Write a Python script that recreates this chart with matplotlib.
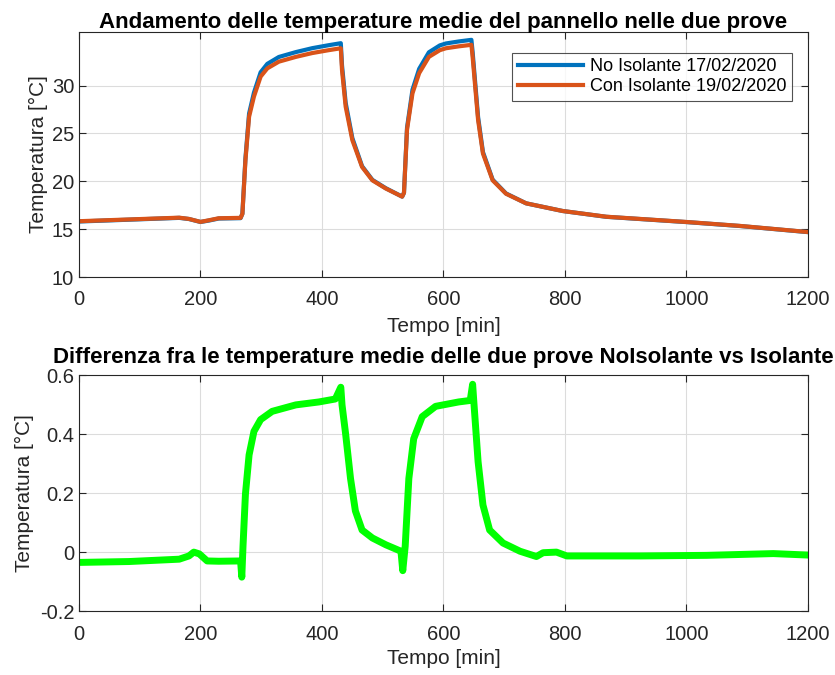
import matplotlib
matplotlib.use("Agg")
import matplotlib.pyplot as plt

plt.rcParams['font.family'] = ['Liberation Sans', 'DejaVu Sans']

# --- data ---
# time [min] shared by the two temperature curves
t_top = [0, 165, 181, 200, 214, 230, 266, 269, 274, 280,
         288, 299, 310, 329, 357, 384, 411, 431, 433, 439,
         450, 466, 483, 505, 532, 535, 540, 549, 560, 576,
         594, 604, 625, 646, 648, 657, 665, 681, 703, 736,
         796, 868, 1000, 1088, 1200]
no_isolante = [15.8, 16.18, 16.06, 15.75, 15.9, 16.11, 16.15, 16.62, 22.4, 27.08,
               29.26, 31.39, 32.27, 32.99, 33.5, 33.91, 34.22, 34.43, 32.1, 28.2,
               24.52, 21.58, 20.15, 19.28, 18.4, 18.8, 25.6, 29.57, 31.75, 33.48,
               34.2, 34.4, 34.61, 34.78, 33.5, 26.71, 23.06, 20.17, 18.73, 17.7,
               16.9, 16.29, 15.74, 15.33, 14.69]
con_isolante = [15.83, 16.2, 16.07, 15.76, 15.93, 16.14, 16.18, 16.6, 22.2, 26.75,
                28.85, 30.94, 31.8, 32.5, 33.0, 33.4, 33.7, 33.9, 31.6, 27.8,
                24.3, 21.5, 20.1, 19.25, 18.4, 18.8, 25.4, 29.2, 31.3, 33.0,
                33.7, 33.9, 34.1, 34.26, 33.0, 26.4, 22.9, 20.1, 18.7, 17.7,
                16.9, 16.3, 15.75, 15.34, 14.7]

# difference NoIsolante - Isolante
t_diff = [0, 82, 165, 181, 189, 198, 211, 230, 266, 268,
          270, 274, 280, 288, 299, 318, 357, 395, 422, 431,
          433, 439, 447, 455, 466, 483, 505, 530, 533, 537,
          543, 551, 565, 587, 625, 644, 648, 650, 657, 665,
          676, 698, 726, 753, 764, 786, 803, 923, 1033, 1143,
          1200]
diff = [-0.035, -0.032, -0.024, -0.013, 0.0, -0.006, -0.03, -0.031, -0.03, -0.085,
        0.02, 0.197, 0.33, 0.41, 0.45, 0.478, 0.50, 0.51, 0.52, 0.56,
        0.5, 0.40, 0.25, 0.14, 0.075, 0.048, 0.025, 0.003, -0.063, 0.02,
        0.25, 0.385, 0.46, 0.495, 0.51, 0.515, 0.57, 0.51, 0.307, 0.16,
        0.075, 0.031, 0.003, -0.015, -0.002, 0.0, -0.013, -0.013, -0.011, -0.005,
        -0.01]

fig = plt.figure(figsize=(8.35, 6.75), dpi=100)
ax1 = fig.add_axes([0.0946, 0.5896, 0.873, 0.363])
ax2 = fig.add_axes([0.0946, 0.0948, 0.873, 0.349])

ax1.plot(t_top, no_isolante, color='#0072BD', lw=3, label='No Isolante 17/02/2020')
ax1.plot(t_top, con_isolante, color='#D95319', lw=3, label='Con Isolante 19/02/2020')
ax1.set_xlim(0, 1200)
ax1.set_ylim(10, 35.6)
ax1.set_yticks([10, 15, 20, 25, 30])
ax1.set_title('Andamento delle temperature medie del pannello nelle due prove',
              fontsize=16, fontweight='bold', pad=3)
ax1.set_xlabel('Tempo [min]', fontsize=15, color='#262626', labelpad=6)
ax1.set_ylabel('Temperatura [°C]', fontsize=15, color='#262626', labelpad=3)
leg = ax1.legend(loc='upper right', bbox_to_anchor=(0.978, 0.914), fontsize=13,
                 handlelength=3.6, fancybox=False, edgecolor='#262626',
                 borderpad=0.3, labelspacing=0.15, handletextpad=0.4,
                 borderaxespad=0)
leg.get_frame().set_linewidth(0.8)

ax2.plot(t_diff, diff, color='#00FF00', lw=5)
ax2.set_xlim(0, 1200)
ax2.set_ylim(-0.2, 0.6)
ax2.set_yticks([-0.2, 0, 0.2, 0.4, 0.6])
ax2.set_yticklabels(['-0.2', '0', '0.2', '0.4', '0.6'])
ax2.set_title('Differenza fra le temperature medie delle due prove NoIsolante vs Isolante',
              fontsize=16, fontweight='bold', pad=9)
ax2.set_xlabel('Tempo [min]', fontsize=15, color='#262626', labelpad=4)
ax2.set_ylabel('Temperatura [°C]', fontsize=15, color='#262626', labelpad=4)

for ax in (ax1, ax2):
    ax.set_xticks([0, 200, 400, 600, 800, 1000, 1200])
    ax.grid(True, color='#dcdcdc', lw=0.8)
    ax.set_axisbelow(True)
    ax.tick_params(direction='in', top=True, right=True, labelsize=14.5,
                   colors='#262626', length=5)
    for s in ax.spines.values():
        s.set_color('#262626')
        s.set_linewidth(0.8)
ax1.tick_params(axis='x', pad=9)
ax2.tick_params(axis='x', pad=10)

fig.savefig('out.png', dpi=100)
